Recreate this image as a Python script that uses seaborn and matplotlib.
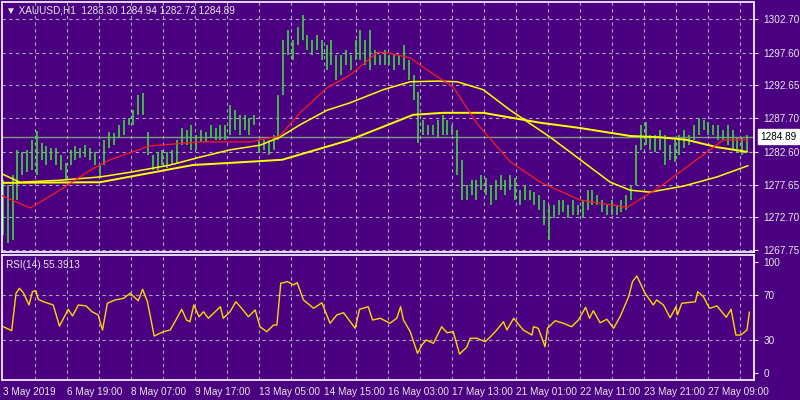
import numpy as np
import pandas as pd
import matplotlib
matplotlib.use("Agg")
import matplotlib.pyplot as plt
import seaborn as sns

highs = [1278.3,1277.6,1279.1,1282.9,1282.6,1282.9,1284.4,1285.7,1283.9,1283.5,1283.2,1283.2,1282.1,1280.9,1282.9,1283.5,1283.2,1283.6,1283.2,1282.6,
         1280.6,1284.4,1285.6,1285.5,1286.7,1287.4,1287.7,1288.9,1291.2,1291.5,1285.6,1282.1,1282.6,1282.9,1282.6,1282.9,1284.4,1286.2,1285.9,1286.7,
         1285.2,1285.9,1285.6,1286.7,1286.2,1286.7,1286.7,1289.7,1288.9,1288.2,1288.2,1287.7,1288.2,1284.4,1284.4,1284.4,1285.1,1291.2,1299.5,1301.0,
         1299.5,1301.5,1303.3,1300.3,1299.5,1300.3,1299.5,1298.8,1299.5,1297.3,1297.3,1298.0,1297.3,1299.5,1301.0,1299.5,1301.0,1298.0,1297.3,1298.0,
         1297.3,1297.3,1297.3,1298.8,1296.5,1294.2,1291.6,1287.4,1286.7,1286.7,1287.4,1288.2,1287.4,1286.7,1285.9,1281.4,1277.6,1278.3,1278.3,1279.1,
         1278.6,1277.6,1278.3,1279.1,1278.3,1279.1,1278.6,1276.8,1277.6,1276.8,1276.5,1276.1,1275.3,1274.6,1274.6,1275.3,1275.3,1274.6,1275.3,1274.6,
         1275.3,1276.8,1276.8,1276.1,1275.3,1274.6,1275.3,1274.6,1275.3,1276.1,1277.6,1283.6,1286.7,1287.1,1285.1,1285.1,1285.9,1285.1,1283.6,1284.4,
         1285.1,1285.9,1285.1,1286.7,1287.7,1287.4,1287.1,1286.7,1286.7,1285.9,1286.7,1285.9,1284.7,1284.7,1285.1]
lows = [1270.0,1268.8,1269.3,1275.3,1279.1,1279.5,1279.9,1279.1,1281.4,1280.6,1281.4,1280.6,1279.8,1278.3,1280.6,1281.4,1281.7,1281.8,1281.4,1280.6,
        1278.6,1280.6,1283.2,1283.6,1284.7,1285.1,1286.7,1286.7,1288.2,1288.2,1282.1,1279.8,1279.8,1280.6,1280.2,1280.6,1280.9,1283.6,1283.6,1282.9,
        1282.9,1284.1,1284.1,1284.7,1284.4,1284.4,1284.4,1285.1,1285.9,1285.1,1285.9,1285.1,1286.7,1282.4,1282.9,1282.1,1282.9,1284.4,1291.2,1297.3,
        1296.5,1298.8,1299.5,1298.0,1297.3,1298.0,1296.5,1295.0,1295.7,1293.5,1294.2,1295.7,1295.0,1296.5,1296.5,1295.7,1295.0,1295.7,1295.7,1295.7,
        1295.7,1295.0,1295.7,1295.0,1293.5,1290.4,1283.9,1285.1,1285.1,1285.1,1284.8,1285.1,1285.1,1285.1,1279.1,1275.3,1275.3,1276.1,1275.3,1276.8,
        1276.1,1274.6,1275.3,1276.8,1276.1,1276.8,1275.3,1274.6,1275.3,1275.3,1274.6,1273.8,1271.5,1269.3,1272.6,1273.0,1273.5,1272.6,1273.0,1273.0,
        1272.6,1273.8,1274.6,1274.6,1273.5,1273.0,1273.0,1273.0,1273.5,1273.8,1275.3,1277.6,1282.9,1283.6,1282.9,1282.6,1282.9,1280.6,1281.4,1281.1,
        1282.1,1283.2,1283.6,1284.4,1285.1,1285.9,1285.1,1285.1,1284.4,1284.4,1283.6,1282.9,1282.6,1282.1,1282.6]

ma_fast_idx = [-0.6,5.6,11.8,18.0,22.2,30.4,40.8,51.1,57.3,61.5,67.1,71.8,77.6,80.1,84.3,87.8,93.2,98.1,105.0,111.2,119.5,129.2,136.0,144.3,149.1,154.2]
ma_fast = [1276.1,1274.1,1276.8,1279.8,1281.4,1283.5,1284.1,1284.1,1285.0,1288.5,1292.3,1294.2,1297.7,1297.5,1296.8,1295.0,1292.4,1286.9,1281.1,1278.0,1275.3,1274.2,1277.3,1281.8,1284.4,1284.4]
ma_mid_idx = [-0.6,3.5,11.8,20.1,26.3,34.6,40.8,47.0,53.2,57.3,61.5,67.1,71.8,78.7,84.3,89.9,94.0,99.4,105.0,113.3,119.5,125.7,129.8,133.9,140.8,147.8,154.2]
ma_mid = [1279.4,1278.0,1278.3,1278.8,1279.5,1280.6,1281.8,1282.9,1283.6,1284.8,1286.7,1288.9,1290.0,1292.0,1293.2,1293.3,1293.2,1292.0,1288.9,1284.8,1281.4,1278.0,1276.8,1276.5,1277.4,1278.8,1280.5]
ma_slow_idx = [-0.6,20.1,39.3,51.1,57.8,71.8,78.7,84.9,91.1,99.4,111.2,119.5,129.8,136.0,141.6,147.8,154.0]
ma_slow = [1277.9,1278.0,1280.6,1281.1,1281.4,1284.4,1286.4,1288.2,1288.5,1288.5,1287.0,1286.2,1285.0,1284.8,1284.4,1283.3,1282.6]

rsi_idx = [0.1,1.8,2.7,3.4,4.2,5.4,6.1,6.8,7.3,8.3,10.4,11.7,13.5,14.4,15.6,17.2,18.4,19.7,20.6,21.6,23.2,25.0,26.3,28.0,28.9,29.9,31.3,33.2,34.6,35.6,
           37.0,38.0,38.7,39.5,40.6,41.5,42.5,45.0,45.6,47.0,48.2,49.4,50.8,52.2,53.2,54.6,56.0,56.7,57.5,58.9,60.1,60.9,62.2,64.3,66.0,67.7,69.1,70.5,72.9,73.8,
           75.6,76.5,78.1,80.1,
           81.5,82.3,82.9,84.3,85.8,86.7,87.6,89.1,90.8,91.9,93.2,94.5,96.0,96.7,98.1,99.8,100.8,101.9,103.6,104.3,105.7,107.7,109.5,109.8,110.8,112.2,112.7,114.3,116.0,117.7,
           119.1,120.6,121.4,122.2,123.6,125.0,126.4,127.8,129.5,130.3,131.2,132.9,134.6,135.3,136.7,138.1,139.3,139.6,140.5,143.3,143.8,145.0,146.2,147.8,149.7,150.7,151.7,152.7,154.0,154.5]
rsi = [41.7,38.1,71.8,76.3,72.4,61.3,73.3,74.2,66.4,64.3,61.3,42.3,57.4,51.4,61.3,60.4,55.3,52.3,38.7,62.8,65.8,67.3,71.8,65.1,75.4,64.3,33.3,37.2,38.7,46.2,
       57.4,47.7,46.2,61.3,50.7,55.2,49.3,59.7,49.3,55.2,64.2,58.3,50.7,56.8,41.7,37.2,43.2,43.2,80.8,82.3,79.3,81.4,65.8,58.3,63.3,44.8,52.3,54.3,40.3,57.4,
       59.7,47.7,49.3,44.8,
       49.3,59.7,47.7,37.2,17.7,25.2,29.7,26.8,41.7,36.3,37.2,17.1,23.2,31.3,31.3,28.2,32.2,37.2,46.2,38.7,49.3,38.7,34.2,41.7,40.3,23.7,40.3,47.1,44.8,41.7,
       47.7,59.2,49.3,56.1,45.3,48.4,40.3,51.4,68.7,82.3,87.4,71.8,61.3,65.8,61.3,49.8,59.7,52.3,62.8,64.2,73.2,68.7,58.3,60.4,50.2,57.4,34.2,34.2,38.7,55.0]

price_ticks = [1302.70, 1297.60, 1292.65, 1287.70, 1282.60, 1277.65, 1272.70, 1267.75]
time_labels = ["3 May 2019", "6 May 19:00", "8 May 07:00", "9 May 17:00", "13 May 05:00", "14 May 15:00",
               "16 May 03:00", "17 May 13:00", "21 May 01:00", "22 May 11:00", "23 May 21:00", "27 May 09:00"]
last_price = 1284.89
title = "XAUUSD,H1  1283.30 1284.94 1282.72 1284.89"
rsi_title = "RSI(14) 55.3913"

BG = "#4b0082"
GRID = "#a9a9b9"
TXT = "#e8e8e8"
FS = 7.2

sns.set_style("dark")
plt.rcParams['font.family'] = ['Liberation Sans', 'DejaVu Sans']
fig = plt.figure(figsize=(8, 4), dpi=100, facecolor=BG)
ax = fig.add_axes([0.0025, 0.37, 0.94, 0.625])
ax2 = fig.add_axes([0.0025, 0.05, 0.94, 0.3125])
xlim = (-0.2, 155.45)
label_pos = np.arange(len(time_labels)) * 13.27
grid_pos = np.arange(1, 24) * 6.635

for a in (ax, ax2):
    a.set_facecolor(BG)
    a.set_xlim(*xlim)
    for s in a.spines.values():
        s.set_color("white"); s.set_linewidth(1.2)
    a.grid(False)
    for gx in grid_pos:
        a.axvline(gx, color=GRID, lw=0.8, ls=(0, (3, 3)), zorder=0)
    a.yaxis.tick_right()
    a.tick_params(axis='y', colors=TXT, labelsize=FS, length=3, pad=4, labelcolor=TXT)

ax.set_ylim(1267.44, 1305.27)
for p in price_ticks:
    ax.axhline(p, color=GRID, lw=0.8, ls=(0, (3, 3)), zorder=0)
ax.set_yticks(price_ticks)
ax.set_yticklabels([f"{p:.2f}" for p in price_ticks])
ax.set_xticks([])
idx = np.arange(len(highs))
ax.vlines(idx, lows, highs, color="#3fd83f", lw=1.2, zorder=2)
sns.lineplot(x=ma_slow_idx, y=ma_slow, ax=ax, color="#ffff00", lw=1.4, zorder=3)
sns.lineplot(x=ma_mid_idx, y=ma_mid, ax=ax, color="#ffff00", lw=1.1, zorder=3)
sns.lineplot(x=ma_fast_idx, y=ma_fast, ax=ax, color="#ff1a1a", lw=0.9, zorder=3)
ax.axhline(last_price, color="#7a9e7a", lw=1.0, zorder=1)
ax.text(1.008, last_price, f"{last_price:.2f}", transform=ax.get_yaxis_transform(), va="center", ha="left",
        fontsize=FS, color="black", bbox=dict(boxstyle="square,pad=0.25", fc="white", ec="white"), zorder=5, clip_on=False)
ax.text(0.005, 0.985, "▼ " + title, transform=ax.transAxes, va="top", ha="left", fontsize=FS, color=TXT)

ax2.set_ylim(-6.3, 106.3)
for lvl in (70, 30):
    ax2.axhline(lvl, color=GRID, lw=0.8, ls=(0, (3, 3)), zorder=0)
ax2.set_yticks([0, 30, 70, 100])
sns.lineplot(x=rsi_idx, y=rsi, ax=ax2, color="#ffd700", lw=1.0, zorder=3)
ax2.text(0.005, 0.96, rsi_title, transform=ax2.transAxes, va="top", ha="left", fontsize=FS, color=TXT)
ax2.set_xticks(label_pos)
ax2.set_xticklabels(time_labels, ha="left")
ax2.tick_params(axis='x', colors=TXT, labelsize=FS, length=3, pad=2, labelcolor=TXT)
for a in (ax, ax2):
    a.set_xlabel(""); a.set_ylabel("")

fig.savefig("out.png", dpi=100, facecolor=BG)
